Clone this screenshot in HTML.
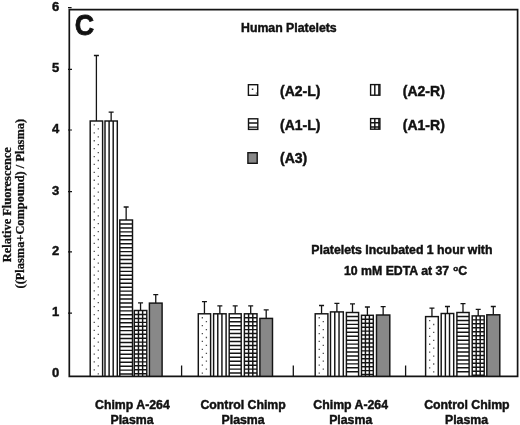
<!DOCTYPE html>
<html><head><meta charset="utf-8"><style>
html,body{margin:0;padding:0;background:#fff;}
body{width:520px;height:425px;overflow:hidden;position:relative;}
svg{position:absolute;left:0;top:0;filter:grayscale(1);}
.s{font-family:"Liberation Sans",sans-serif;font-weight:bold;fill:#111;stroke:#111;stroke-width:0.45px;}
.r{font-family:"Liberation Serif",serif;font-weight:bold;fill:#111;stroke:#111;stroke-width:0.3px;}
</style></head><body>
<svg width="520" height="425" viewBox="0 0 520 425">
<rect width="520" height="425" fill="#fff"/>
<!-- frame -->
<path d="M69.3 9.7V376.3H517.6V9.7Z" fill="none" stroke="#141414" stroke-width="1.7"/>
<!-- y ticks -->
<path d="M68 7.6H71.6M68 69.3H72M68 130H72M68 191.6H72M68 251.8H72M68 313.1H72" stroke="#141414" stroke-width="1.2"/>
<!-- x ticks -->
<path d="M181.6 365.4V376M293.3 365.4V376M405.6 365.4V376" stroke="#141414" stroke-width="1.3"/>
<rect x="90.2" y="121" width="12.4" height="255.3" fill="#fff"/>
<path d="M93.6 124.3h1.3v1.3h-1.3zM93.6 132.2h1.3v1.3h-1.3zM93.6 140.1h1.3v1.3h-1.3zM93.6 148h1.3v1.3h-1.3zM93.6 155.9h1.3v1.3h-1.3zM93.6 163.8h1.3v1.3h-1.3zM93.6 171.7h1.3v1.3h-1.3zM93.6 179.6h1.3v1.3h-1.3zM93.6 187.5h1.3v1.3h-1.3zM93.6 195.4h1.3v1.3h-1.3zM93.6 203.3h1.3v1.3h-1.3zM93.6 211.2h1.3v1.3h-1.3zM93.6 219.1h1.3v1.3h-1.3zM93.6 227h1.3v1.3h-1.3zM93.6 234.9h1.3v1.3h-1.3zM93.6 242.8h1.3v1.3h-1.3zM93.6 250.7h1.3v1.3h-1.3zM93.6 258.6h1.3v1.3h-1.3zM93.6 266.5h1.3v1.3h-1.3zM93.6 274.4h1.3v1.3h-1.3zM93.6 282.3h1.3v1.3h-1.3zM93.6 290.2h1.3v1.3h-1.3zM93.6 298.1h1.3v1.3h-1.3zM93.6 306h1.3v1.3h-1.3zM93.6 313.9h1.3v1.3h-1.3zM93.6 321.8h1.3v1.3h-1.3zM93.6 329.7h1.3v1.3h-1.3zM93.6 337.6h1.3v1.3h-1.3zM93.6 345.5h1.3v1.3h-1.3zM93.6 353.4h1.3v1.3h-1.3zM93.6 361.3h1.3v1.3h-1.3zM93.6 369.2h1.3v1.3h-1.3zM97.65 128.25h1.3v1.3h-1.3zM97.65 136.15h1.3v1.3h-1.3zM97.65 144.05h1.3v1.3h-1.3zM97.65 151.95h1.3v1.3h-1.3zM97.65 159.85h1.3v1.3h-1.3zM97.65 167.75h1.3v1.3h-1.3zM97.65 175.65h1.3v1.3h-1.3zM97.65 183.55h1.3v1.3h-1.3zM97.65 191.45h1.3v1.3h-1.3zM97.65 199.35h1.3v1.3h-1.3zM97.65 207.25h1.3v1.3h-1.3zM97.65 215.15h1.3v1.3h-1.3zM97.65 223.05h1.3v1.3h-1.3zM97.65 230.95h1.3v1.3h-1.3zM97.65 238.85h1.3v1.3h-1.3zM97.65 246.75h1.3v1.3h-1.3zM97.65 254.65h1.3v1.3h-1.3zM97.65 262.55h1.3v1.3h-1.3zM97.65 270.45h1.3v1.3h-1.3zM97.65 278.35h1.3v1.3h-1.3zM97.65 286.25h1.3v1.3h-1.3zM97.65 294.15h1.3v1.3h-1.3zM97.65 302.05h1.3v1.3h-1.3zM97.65 309.95h1.3v1.3h-1.3zM97.65 317.85h1.3v1.3h-1.3zM97.65 325.75h1.3v1.3h-1.3zM97.65 333.65h1.3v1.3h-1.3zM97.65 341.55h1.3v1.3h-1.3zM97.65 349.45h1.3v1.3h-1.3zM97.65 357.35h1.3v1.3h-1.3zM97.65 365.25h1.3v1.3h-1.3zM97.65 373.15h1.3v1.3h-1.3z" fill="#505050"/>
<rect x="90.2" y="121" width="12.4" height="255.3" fill="none" stroke="#141414" stroke-width="1.45"/>
<path d="M96.4 121V55.5M93.9 55.5H98.9" stroke="#141414" stroke-width="1.3" fill="none"/>
<rect x="105" y="121" width="12.3" height="255.3" fill="#fff"/>
<path d="M109.1 121V376.3M113.2 121V376.3" stroke="#141414" stroke-width="1.45" fill="none"/>
<rect x="105" y="121" width="12.3" height="255.3" fill="none" stroke="#141414" stroke-width="1.45"/>
<path d="M111.15 121V112.2M108.65 112.2H113.65" stroke="#141414" stroke-width="1.3" fill="none"/>
<rect x="119.8" y="220" width="12.7" height="156.3" fill="#fff"/>
<path d="M119.8 223.95H132.5M119.8 227.9H132.5M119.8 231.85H132.5M119.8 235.8H132.5M119.8 239.75H132.5M119.8 243.7H132.5M119.8 247.65H132.5M119.8 251.6H132.5M119.8 255.55H132.5M119.8 259.5H132.5M119.8 263.45H132.5M119.8 267.4H132.5M119.8 271.35H132.5M119.8 275.3H132.5M119.8 279.25H132.5M119.8 283.2H132.5M119.8 287.15H132.5M119.8 291.1H132.5M119.8 295.05H132.5M119.8 299H132.5M119.8 302.95H132.5M119.8 306.9H132.5M119.8 310.85H132.5M119.8 314.8H132.5M119.8 318.75H132.5M119.8 322.7H132.5M119.8 326.65H132.5M119.8 330.6H132.5M119.8 334.55H132.5M119.8 338.5H132.5M119.8 342.45H132.5M119.8 346.4H132.5M119.8 350.35H132.5M119.8 354.3H132.5M119.8 358.25H132.5M119.8 362.2H132.5M119.8 366.15H132.5M119.8 370.1H132.5M119.8 374.05H132.5" stroke="#141414" stroke-width="1.45" fill="none"/>
<rect x="119.8" y="220" width="12.7" height="156.3" fill="none" stroke="#141414" stroke-width="1.45"/>
<path d="M126.15 220V207M123.65 207H128.65" stroke="#141414" stroke-width="1.3" fill="none"/>
<rect x="134.3" y="310.5" width="12.5" height="65.8" fill="#fff"/>
<path d="M138.47 310.5V376.3M142.63 310.5V376.3" stroke="#141414" stroke-width="1.45" fill="none"/>
<path d="M134.3 314.45H146.8M134.3 318.4H146.8M134.3 322.35H146.8M134.3 326.3H146.8M134.3 330.25H146.8M134.3 334.2H146.8M134.3 338.15H146.8M134.3 342.1H146.8M134.3 346.05H146.8M134.3 350H146.8M134.3 353.95H146.8M134.3 357.9H146.8M134.3 361.85H146.8M134.3 365.8H146.8M134.3 369.75H146.8M134.3 373.7H146.8" stroke="#141414" stroke-width="1.45" fill="none"/>
<rect x="134.3" y="310.5" width="12.5" height="65.8" fill="none" stroke="#141414" stroke-width="1.45"/>
<path d="M140.55 310.5V302.9M138.05 302.9H143.05" stroke="#141414" stroke-width="1.3" fill="none"/>
<rect x="149.4" y="303.1" width="12.7" height="73.2" fill="#888888"/>
<rect x="149.4" y="303.1" width="12.7" height="73.2" fill="none" stroke="#141414" stroke-width="1.45"/>
<path d="M155.75 303.1V294.6M153.25 294.6H158.25" stroke="#141414" stroke-width="1.3" fill="none"/>
<rect x="198.3" y="313.8" width="12.3" height="62.5" fill="#fff"/>
<path d="M201.7 317.1h1.3v1.3h-1.3zM201.7 325h1.3v1.3h-1.3zM201.7 332.9h1.3v1.3h-1.3zM201.7 340.8h1.3v1.3h-1.3zM201.7 348.7h1.3v1.3h-1.3zM201.7 356.6h1.3v1.3h-1.3zM201.7 364.5h1.3v1.3h-1.3zM201.7 372.4h1.3v1.3h-1.3zM205.75 321.05h1.3v1.3h-1.3zM205.75 328.95h1.3v1.3h-1.3zM205.75 336.85h1.3v1.3h-1.3zM205.75 344.75h1.3v1.3h-1.3zM205.75 352.65h1.3v1.3h-1.3zM205.75 360.55h1.3v1.3h-1.3zM205.75 368.45h1.3v1.3h-1.3z" fill="#505050"/>
<rect x="198.3" y="313.8" width="12.3" height="62.5" fill="none" stroke="#141414" stroke-width="1.45"/>
<path d="M204.45 313.8V301.6M201.95 301.6H206.95" stroke="#141414" stroke-width="1.3" fill="none"/>
<rect x="213.6" y="313.8" width="12.5" height="62.5" fill="#fff"/>
<path d="M217.77 313.8V376.3M221.93 313.8V376.3" stroke="#141414" stroke-width="1.45" fill="none"/>
<rect x="213.6" y="313.8" width="12.5" height="62.5" fill="none" stroke="#141414" stroke-width="1.45"/>
<path d="M219.85 313.8V305.8M217.35 305.8H222.35" stroke="#141414" stroke-width="1.3" fill="none"/>
<rect x="229.2" y="313.8" width="12" height="62.5" fill="#fff"/>
<path d="M229.2 317.75H241.2M229.2 321.7H241.2M229.2 325.65H241.2M229.2 329.6H241.2M229.2 333.55H241.2M229.2 337.5H241.2M229.2 341.45H241.2M229.2 345.4H241.2M229.2 349.35H241.2M229.2 353.3H241.2M229.2 357.25H241.2M229.2 361.2H241.2M229.2 365.15H241.2M229.2 369.1H241.2M229.2 373.05H241.2" stroke="#141414" stroke-width="1.45" fill="none"/>
<rect x="229.2" y="313.8" width="12" height="62.5" fill="none" stroke="#141414" stroke-width="1.45"/>
<path d="M235.2 313.8V305.8M232.7 305.8H237.7" stroke="#141414" stroke-width="1.3" fill="none"/>
<rect x="244.4" y="313.8" width="12.6" height="62.5" fill="#fff"/>
<path d="M248.6 313.8V376.3M252.8 313.8V376.3" stroke="#141414" stroke-width="1.45" fill="none"/>
<path d="M244.4 317.75H257M244.4 321.7H257M244.4 325.65H257M244.4 329.6H257M244.4 333.55H257M244.4 337.5H257M244.4 341.45H257M244.4 345.4H257M244.4 349.35H257M244.4 353.3H257M244.4 357.25H257M244.4 361.2H257M244.4 365.15H257M244.4 369.1H257M244.4 373.05H257" stroke="#141414" stroke-width="1.45" fill="none"/>
<rect x="244.4" y="313.8" width="12.6" height="62.5" fill="none" stroke="#141414" stroke-width="1.45"/>
<path d="M250.7 313.8V305.8M248.2 305.8H253.2" stroke="#141414" stroke-width="1.3" fill="none"/>
<rect x="259.9" y="318.4" width="12.6" height="57.9" fill="#888888"/>
<rect x="259.9" y="318.4" width="12.6" height="57.9" fill="none" stroke="#141414" stroke-width="1.45"/>
<path d="M266.2 318.4V309.9M263.7 309.9H268.7" stroke="#141414" stroke-width="1.3" fill="none"/>
<rect x="315.2" y="313.8" width="12.7" height="62.5" fill="#fff"/>
<path d="M318.6 317.1h1.3v1.3h-1.3zM318.6 325h1.3v1.3h-1.3zM318.6 332.9h1.3v1.3h-1.3zM318.6 340.8h1.3v1.3h-1.3zM318.6 348.7h1.3v1.3h-1.3zM318.6 356.6h1.3v1.3h-1.3zM318.6 364.5h1.3v1.3h-1.3zM318.6 372.4h1.3v1.3h-1.3zM322.65 321.05h1.3v1.3h-1.3zM322.65 328.95h1.3v1.3h-1.3zM322.65 336.85h1.3v1.3h-1.3zM322.65 344.75h1.3v1.3h-1.3zM322.65 352.65h1.3v1.3h-1.3zM322.65 360.55h1.3v1.3h-1.3zM322.65 368.45h1.3v1.3h-1.3z" fill="#505050"/>
<rect x="315.2" y="313.8" width="12.7" height="62.5" fill="none" stroke="#141414" stroke-width="1.45"/>
<path d="M321.55 313.8V305.5M319.05 305.5H324.05" stroke="#141414" stroke-width="1.3" fill="none"/>
<rect x="330.5" y="311.9" width="12.8" height="64.4" fill="#fff"/>
<path d="M334.77 311.9V376.3M339.03 311.9V376.3" stroke="#141414" stroke-width="1.45" fill="none"/>
<rect x="330.5" y="311.9" width="12.8" height="64.4" fill="none" stroke="#141414" stroke-width="1.45"/>
<path d="M336.9 311.9V303.3M334.4 303.3H339.4" stroke="#141414" stroke-width="1.3" fill="none"/>
<rect x="346.4" y="312.5" width="12.2" height="63.8" fill="#fff"/>
<path d="M346.4 316.45H358.6M346.4 320.4H358.6M346.4 324.35H358.6M346.4 328.3H358.6M346.4 332.25H358.6M346.4 336.2H358.6M346.4 340.15H358.6M346.4 344.1H358.6M346.4 348.05H358.6M346.4 352H358.6M346.4 355.95H358.6M346.4 359.9H358.6M346.4 363.85H358.6M346.4 367.8H358.6M346.4 371.75H358.6" stroke="#141414" stroke-width="1.45" fill="none"/>
<rect x="346.4" y="312.5" width="12.2" height="63.8" fill="none" stroke="#141414" stroke-width="1.45"/>
<path d="M352.5 312.5V303.9M350 303.9H355" stroke="#141414" stroke-width="1.3" fill="none"/>
<rect x="361.5" y="315.3" width="11.8" height="61" fill="#fff"/>
<path d="M365.43 315.3V376.3M369.37 315.3V376.3" stroke="#141414" stroke-width="1.45" fill="none"/>
<path d="M361.5 319.25H373.3M361.5 323.2H373.3M361.5 327.15H373.3M361.5 331.1H373.3M361.5 335.05H373.3M361.5 339H373.3M361.5 342.95H373.3M361.5 346.9H373.3M361.5 350.85H373.3M361.5 354.8H373.3M361.5 358.75H373.3M361.5 362.7H373.3M361.5 366.65H373.3M361.5 370.6H373.3M361.5 374.55H373.3" stroke="#141414" stroke-width="1.45" fill="none"/>
<rect x="361.5" y="315.3" width="11.8" height="61" fill="none" stroke="#141414" stroke-width="1.45"/>
<path d="M367.4 315.3V307M364.9 307H369.9" stroke="#141414" stroke-width="1.3" fill="none"/>
<rect x="376.5" y="315" width="13.3" height="61.3" fill="#888888"/>
<rect x="376.5" y="315" width="13.3" height="61.3" fill="none" stroke="#141414" stroke-width="1.45"/>
<path d="M383.15 315V306.6M380.65 306.6H385.65" stroke="#141414" stroke-width="1.3" fill="none"/>
<rect x="425.6" y="316.6" width="12.7" height="59.7" fill="#fff"/>
<path d="M429 319.9h1.3v1.3h-1.3zM429 327.8h1.3v1.3h-1.3zM429 335.7h1.3v1.3h-1.3zM429 343.6h1.3v1.3h-1.3zM429 351.5h1.3v1.3h-1.3zM429 359.4h1.3v1.3h-1.3zM429 367.3h1.3v1.3h-1.3zM433.05 323.85h1.3v1.3h-1.3zM433.05 331.75h1.3v1.3h-1.3zM433.05 339.65h1.3v1.3h-1.3zM433.05 347.55h1.3v1.3h-1.3zM433.05 355.45h1.3v1.3h-1.3zM433.05 363.35h1.3v1.3h-1.3zM433.05 371.25h1.3v1.3h-1.3z" fill="#505050"/>
<rect x="425.6" y="316.6" width="12.7" height="59.7" fill="none" stroke="#141414" stroke-width="1.45"/>
<path d="M431.95 316.6V308.2M429.45 308.2H434.45" stroke="#141414" stroke-width="1.3" fill="none"/>
<rect x="441.2" y="313.5" width="12.5" height="62.8" fill="#fff"/>
<path d="M445.37 313.5V376.3M449.53 313.5V376.3" stroke="#141414" stroke-width="1.45" fill="none"/>
<rect x="441.2" y="313.5" width="12.5" height="62.8" fill="none" stroke="#141414" stroke-width="1.45"/>
<path d="M447.45 313.5V306.5M444.95 306.5H449.95" stroke="#141414" stroke-width="1.3" fill="none"/>
<rect x="456.9" y="312.5" width="12.2" height="63.8" fill="#fff"/>
<path d="M456.9 316.45H469.1M456.9 320.4H469.1M456.9 324.35H469.1M456.9 328.3H469.1M456.9 332.25H469.1M456.9 336.2H469.1M456.9 340.15H469.1M456.9 344.1H469.1M456.9 348.05H469.1M456.9 352H469.1M456.9 355.95H469.1M456.9 359.9H469.1M456.9 363.85H469.1M456.9 367.8H469.1M456.9 371.75H469.1" stroke="#141414" stroke-width="1.45" fill="none"/>
<rect x="456.9" y="312.5" width="12.2" height="63.8" fill="none" stroke="#141414" stroke-width="1.45"/>
<path d="M463 312.5V303.6M460.5 303.6H465.5" stroke="#141414" stroke-width="1.3" fill="none"/>
<rect x="472.2" y="315.9" width="12" height="60.4" fill="#fff"/>
<path d="M476.2 315.9V376.3M480.2 315.9V376.3" stroke="#141414" stroke-width="1.45" fill="none"/>
<path d="M472.2 319.85H484.2M472.2 323.8H484.2M472.2 327.75H484.2M472.2 331.7H484.2M472.2 335.65H484.2M472.2 339.6H484.2M472.2 343.55H484.2M472.2 347.5H484.2M472.2 351.45H484.2M472.2 355.4H484.2M472.2 359.35H484.2M472.2 363.3H484.2M472.2 367.25H484.2M472.2 371.2H484.2M472.2 375.15H484.2" stroke="#141414" stroke-width="1.45" fill="none"/>
<rect x="472.2" y="315.9" width="12" height="60.4" fill="none" stroke="#141414" stroke-width="1.45"/>
<path d="M478.2 315.9V309.3M475.7 309.3H480.7" stroke="#141414" stroke-width="1.3" fill="none"/>
<rect x="486.8" y="314.8" width="13" height="61.5" fill="#888888"/>
<rect x="486.8" y="314.8" width="13" height="61.5" fill="none" stroke="#141414" stroke-width="1.45"/>
<path d="M493.3 314.8V306.5M490.8 306.5H495.8" stroke="#141414" stroke-width="1.3" fill="none"/>
<rect x="251.8" y="88.5" width="1.5" height="1.5" fill="#333"/>
<rect x="255.8" y="92.5" width="1.2" height="1.2" fill="#666"/>
<rect x="248.4" y="84.7" width="9.3" height="10.6" fill="none" stroke="#141414" stroke-width="1.4"/>
<path d="M374.8 84.6V95.2M378.9 84.6V95.2" stroke="#141414" stroke-width="1.45"/>
<rect x="370.6" y="84.6" width="9.3" height="10.6" fill="none" stroke="#141414" stroke-width="1.4"/>
<path d="M248.5 123H257.8M248.5 127.1H257.8" stroke="#141414" stroke-width="1.45"/>
<rect x="248.5" y="118.8" width="9.3" height="10.6" fill="none" stroke="#141414" stroke-width="1.4"/>
<path d="M374.8 118.6V129.2M378.9 118.6V129.2" stroke="#141414" stroke-width="1.45"/>
<path d="M370.6 122.8H379.9M370.6 126.9H379.9" stroke="#141414" stroke-width="1.45"/>
<rect x="370.6" y="118.6" width="9.3" height="10.6" fill="none" stroke="#141414" stroke-width="1.4"/>
<rect x="247.9" y="152.7" width="9.3" height="10.6" fill="#888888"/>
<rect x="247.9" y="152.7" width="9.3" height="10.6" fill="none" stroke="#141414" stroke-width="1.4"/>
<text class="s" style="stroke-width:0.8px" transform="translate(74.8 35.3) scale(0.92 1)" font-size="29.2">C</text>
<text class="s" x="241" y="31.9" font-size="12.3">Human Platelets</text>
<g font-size="14" class="s">
<text x="280" y="95.6">(A2-L)</text>
<text x="402.8" y="95.6">(A2-R)</text>
<text x="280" y="129.9">(A1-L)</text>
<text x="402.8" y="129.9">(A1-R)</text>
<text x="280" y="163.2">(A3)</text>
</g>
<text class="s" x="401.9" y="253.9" font-size="12.3" text-anchor="middle">Platelets Incubated 1 hour with</text>
<text class="s" x="405.6" y="275.1" font-size="12.3" text-anchor="middle">10 mM EDTA at 37 <tspan font-size="8" dy="-4.6" dx="0.6">o</tspan><tspan dy="4.6" dx="0.2">C</tspan></text>
<g font-size="12.3" class="s" text-anchor="middle">
<text x="132.4" y="409.3">Chimp A-264</text><text x="132" y="423.6">Plasma</text>
<text x="243.1" y="409.3">Control Chimp</text><text x="243.1" y="423.6">Plasma</text>
<text x="350.7" y="409.3">Chimp A-264</text><text x="350.7" y="423.6">Plasma</text>
<text x="466.9" y="409.3">Control Chimp</text><text x="466.5" y="423.6">Plasma</text>
</g>
<g font-size="13" class="s" text-anchor="end">
<text x="59.2" y="10.5">6</text>
<text x="59.2" y="72.1">5</text>
<text x="59.2" y="132.8">4</text>
<text x="59.2" y="194.7">3</text>
<text x="59.2" y="254.7">2</text>
<text x="59.2" y="315.6">1</text>
<text x="59.2" y="376.7">0</text>
</g>
<g class="r" font-size="12.4" text-anchor="middle">
<text transform="translate(11.0 204.7) rotate(-90)">Relative Fluorescence</text>
<text transform="translate(24.4 203.7) rotate(-90)">((Plasma+Compound) / Plasma)</text>
</g>
</svg>
</body></html>
